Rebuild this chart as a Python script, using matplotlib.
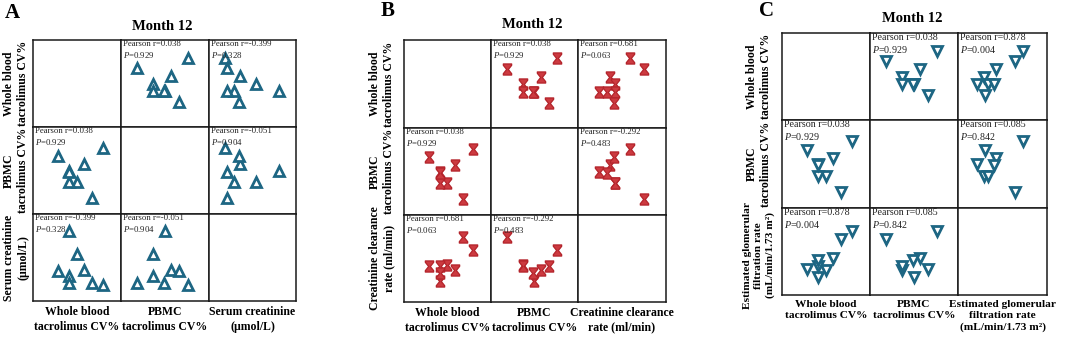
import matplotlib
matplotlib.use('Agg')
import matplotlib.pyplot as plt
from matplotlib.path import Path

# ---- data: 8 patients, month 12 ----
wb_cv = [31.6, 26.9, 23.3, 19.9, 16.4, 16.4, 16.4, 11.4]      # whole blood tacrolimus CV%
pbmc_cv = [45.6, 11.0, 34.2, 21.9, 29.7, 21.9, 29.0, 39.7]    # PBMC tacrolimus CV%
creatinine = [82.4, 85.5, 103.3, 125.2, 156.3, 94.2, 85.5, 102.0]  # umol/L
crcl = [89.3, 104.5, 66.5, 72.6, 53.6, 71.8, 63.5, 71.4]      # ml/min
egfr = [93.2, 84.5, 62.6, 49.1, 41.1, 53.6, 60.4, 50.2]       # mL/min/1.73 m2

lims = {'wb': (0, 40), 'pbmc': (0, 60), 'cr': (60, 180), 'crcl': (30, 130), 'egfr': (20, 120)}

# pearson stats shown in each off-diagonal cell, keyed by (var_a, var_b)
stats = {
    ('wb', 'pbmc'): ('0.038', '0.929'),
    ('wb', 'cr'): ('-0.399', '0.328'),
    ('pbmc', 'cr'): ('-0.051', '0.904'),
    ('wb', 'crcl'): ('0.681', '0.063'),
    ('pbmc', 'crcl'): ('-0.292', '0.483'),
    ('wb', 'egfr'): ('0.878', '0.004'),
    ('pbmc', 'egfr'): ('0.085', '0.842'),
}

values = {'wb': wb_cv, 'pbmc': pbmc_cv, 'cr': creatinine, 'crcl': crcl, 'egfr': egfr}

plt.rcParams['font.family'] = 'Liberation Serif'
plt.rcParams['mathtext.fontset'] = 'custom'
plt.rcParams['mathtext.rm'] = 'Liberation Serif'
plt.rcParams['mathtext.it'] = 'Liberation Serif:italic'

W, H = 1065, 342
fig = plt.figure(figsize=(W / 100, H / 100), dpi=100)

TEAL = '#1d6683'
RED = '#b3232a'

hourglass = Path([(-0.75, 1), (0.75, 1), (0.75, 0.75), (0.15, 0), (0.75, -0.75), (0.75, -1),
                  (-0.75, -1), (-0.75, -0.75), (-0.15, 0), (-0.75, 0.75), (-0.75, 1)], closed=True)


def fx(x):
    return x / W


def fy(y):
    return 1 - y / H


def draw_panel(letter, keys, labels, cols, rows, title_xy, letter_xy, ylab_x, xlab_y,
               marker_kw, text_fs, label_fs=8.5, last_ylab_fs=8.5):
    n = len(keys)
    for i in range(n):
        for j in range(n):
            x0, x1 = cols[j], cols[j + 1]
            y0, y1 = rows[i], rows[i + 1]
            ax = fig.add_axes([fx(x0), fy(y1), fx(x1 - x0), (y1 - y0) / H])
            ax.set_xticks([])
            ax.set_yticks([])
            for s in ax.spines.values():
                s.set_linewidth(1.1)
                s.set_color('#1a1a1a')
            ax.set_xlim(lims[keys[j]])
            ax.set_ylim(lims[keys[i]])
            if i == j:
                continue
            ax.plot(values[keys[j]], values[keys[i]], linestyle='none', **marker_kw)
            k = (keys[min(i, j)], keys[max(i, j)])
            r, p = stats[k]
            ax.text(0.02, 0.995, f'Pearson r={r}\n$P$=0.{p[2:]}', transform=ax.transAxes,
                    ha='left', va='top', fontsize=text_fs, color='#222222', linespacing=1.2)
    # axis labels
    for i in range(n):
        yc = (rows[i] + rows[i + 1]) / 2
        fs = last_ylab_fs if i == n - 1 else 8.5
        fig.text(fx(ylab_x), fy(yc + (4 if fs != 8.5 else 0)), labels[i], rotation=90,
                 ha='center', va='center', multialignment='center', fontsize=fs,
                 fontweight='bold', linespacing=1.3)
    for j in range(n):
        xc = (cols[j] + cols[j + 1]) / 2
        fig.text(fx(xc), fy(xlab_y), labels[j], ha='center', va='top',
                 multialignment='center', fontsize=label_fs, fontweight='bold', linespacing=1.3)
    fig.text(fx(title_xy[0]), fy(title_xy[1]), 'Month 12', ha='center', va='center',
             fontsize=10.5, fontweight='bold')
    fig.text(fx(letter_xy[0]), fy(letter_xy[1]), letter, ha='center', va='center',
             fontsize=15, fontweight='bold')


wb_label = 'Whole blood\ntacrolimus CV%'
pbmc_label = 'PBMC\ntacrolimus CV%'

# ---- A: serum creatinine ----
draw_panel('A', ['wb', 'pbmc', 'cr'],
           [wb_label, pbmc_label, 'Serum creatinine\n(\u00b5mol/L)'],
           [33, 121, 209, 296], [40, 127, 214, 301],
           (162, 26), (12, 13), 16, 306,
           dict(marker='^', markersize=6.8, markerfacecolor='white', markeredgecolor=TEAL,
                markeredgewidth=2.0),
           6.3)

# ---- B: creatinine clearance ----
draw_panel('B', ['wb', 'pbmc', 'crcl'],
           [wb_label, pbmc_label, 'Creatinine clearance\nrate (ml/min)'],
           [404, 491, 578, 666], [40, 128, 215, 302],
           (532, 25), (388, 11), 382, 307,
           dict(marker=hourglass, markersize=8, markerfacecolor='#cc3a40', markeredgecolor=RED,
                markeredgewidth=0.9),
           6.3)

# ---- C: eGFR ----
draw_panel('C', ['wb', 'pbmc', 'egfr'],
           [wb_label, pbmc_label, 'Estimated glomerular\nfiltration rate\n(mL/min/1.73 m\u00b2)'],
           [782, 870, 958, 1047], [33, 120, 208, 295],
           (912, 19), (767, 11), 759, 300,
           dict(marker='v', markersize=6.8, markerfacecolor='white', markeredgecolor=TEAL,
                markeredgewidth=2.0),
           7.2, label_fs=8.2, last_ylab_fs=8.2)

fig.savefig('out.png', dpi=100)
